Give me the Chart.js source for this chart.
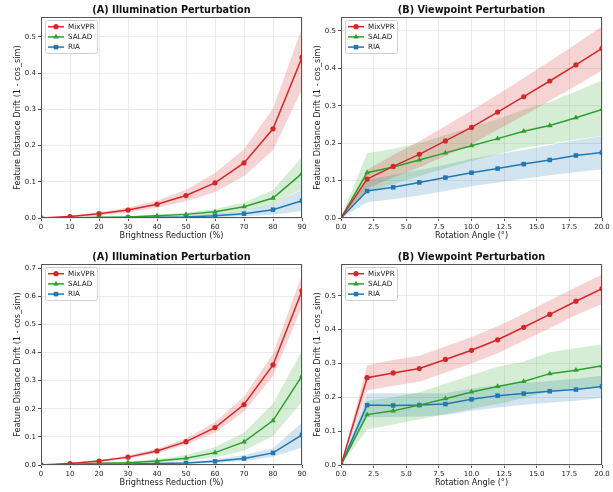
<!DOCTYPE html>
<html>
<head>
<meta charset="utf-8">
<script src="https://cdn.jsdelivr.net/npm/chart.js@4.4.0/dist/chart.umd.min.js"></script>
<style>
  html,body{margin:0;padding:0;background:#fff;}
  #wrap{position:relative;width:613px;height:492px;overflow:hidden;}
  #wrap canvas{position:absolute;}
</style>
</head>
<body>
<div id="wrap">
  <canvas id="c1" width="313" height="245" style="left:0;top:0"></canvas>
  <canvas id="c2" width="313" height="245" style="left:300px;top:0"></canvas>
  <canvas id="c3" width="313" height="245" style="left:0;top:247px"></canvas>
  <canvas id="c4" width="313" height="245" style="left:300px;top:247px"></canvas>
</div>
<script>
// x values
const brightness = [0,10,20,30,40,50,60,70,80,90];
const angles = [0,2,4,6,8,10,12,14,16,18,20];

// (A) top row
const a1Mix   = [0,0.004,0.012,0.022,0.038,0.062,0.097,0.152,0.246,0.443];
const a1MixHi = [0,0.006,0.016,0.029,0.048,0.078,0.124,0.190,0.302,0.525];
const a1MixLo = [0,0.002,0.007,0.015,0.028,0.046,0.072,0.115,0.187,0.355];
const a1Sal   = [0,0.001,0.002,0.003,0.006,0.010,0.017,0.031,0.055,0.123];
const a1SalHi = [0,0.0015,0.003,0.005,0.009,0.015,0.025,0.043,0.077,0.168];
const a1SalLo = [0,0.0005,0.001,0.002,0.003,0.005,0.009,0.020,0.037,0.080];
const a1Ria   = [0,0.0005,0.001,0.0015,0.002,0.003,0.006,0.012,0.023,0.048];
const a1RiaHi = [0,0.001,0.002,0.003,0.004,0.006,0.011,0.021,0.038,0.078];
const a1RiaLo = [0,0.0002,0.0004,0.0006,0.001,0.0015,0.002,0.005,0.009,0.019];

// (B) top row
const b1Mix   = [0,0.104,0.138,0.170,0.206,0.242,0.283,0.324,0.366,0.409,0.453];
const b1MixHi = [0,0.129,0.168,0.205,0.246,0.287,0.330,0.374,0.419,0.465,0.512];
const b1MixLo = [0,0.079,0.108,0.135,0.166,0.197,0.236,0.274,0.313,0.353,0.394];
const b1Sal   = [0,0.121,0.136,0.155,0.174,0.193,0.212,0.232,0.247,0.268,0.290];
const b1SalHi = [0,0.173,0.185,0.200,0.222,0.243,0.264,0.290,0.310,0.338,0.368];
const b1SalLo = [0,0.070,0.090,0.112,0.133,0.152,0.170,0.188,0.198,0.210,0.220];
const b1Ria   = [0,0.072,0.082,0.095,0.108,0.121,0.132,0.144,0.155,0.167,0.175];
const b1RiaHi = [0,0.102,0.115,0.128,0.142,0.158,0.170,0.182,0.195,0.208,0.219];
const b1RiaLo = [0,0.042,0.050,0.060,0.072,0.085,0.095,0.105,0.114,0.122,0.130];

// (A) bottom row
const a2Mix   = [0,0.005,0.014,0.028,0.050,0.083,0.133,0.215,0.356,0.620];
const a2MixHi = [0,0.007,0.018,0.034,0.058,0.094,0.153,0.243,0.397,0.676];
const a2MixLo = [0,0.003,0.010,0.022,0.042,0.072,0.115,0.190,0.317,0.563];
const a2Sal   = [0,0.002,0.006,0.008,0.014,0.024,0.044,0.082,0.158,0.317];
const a2SalHi = [0,0.003,0.008,0.012,0.021,0.036,0.063,0.115,0.219,0.406];
const a2SalLo = [0,0.001,0.003,0.005,0.008,0.013,0.027,0.051,0.103,0.225];
const a2Ria   = [0,0.001,0.002,0.004,0.005,0.007,0.013,0.023,0.043,0.107];
const a2RiaHi = [0,0.0015,0.003,0.006,0.008,0.011,0.020,0.036,0.060,0.151];
const a2RiaLo = [0,0.0005,0.001,0.002,0.003,0.004,0.007,0.014,0.029,0.062];

// (B) bottom row
const b2Mix   = [0,0.258,0.272,0.285,0.312,0.339,0.370,0.407,0.445,0.484,0.521];
const b2MixHi = [0,0.295,0.310,0.323,0.350,0.378,0.410,0.447,0.487,0.525,0.563];
const b2MixLo = [0,0.220,0.234,0.246,0.273,0.300,0.330,0.367,0.404,0.443,0.476];
const b2Sal   = [0,0.149,0.160,0.177,0.196,0.216,0.232,0.247,0.270,0.280,0.293];
const b2SalHi = [0,0.190,0.200,0.215,0.240,0.265,0.290,0.306,0.333,0.345,0.357];
const b2SalLo = [0,0.105,0.120,0.135,0.150,0.166,0.180,0.198,0.218,0.226,0.234];
const b2Ria   = [0,0.177,0.176,0.177,0.180,0.194,0.205,0.211,0.218,0.223,0.232];
const b2RiaHi = [0,0.212,0.212,0.212,0.212,0.225,0.236,0.242,0.248,0.255,0.264];
const b2RiaLo = [0,0.141,0.142,0.143,0.148,0.160,0.170,0.178,0.184,0.190,0.198];

const FONT = "'DejaVu Sans', sans-serif";
const SERIES = [
  {name:'MixVPR', color:'#d62728', fill:'rgba(214,39,40,0.2)',  style:'circle',   r:2.6},
  {name:'SALAD',  color:'#2ca02c', fill:'rgba(44,160,44,0.2)',  style:'triangle', r:3.2},
  {name:'RIA',    color:'#1f77b4', fill:'rgba(31,119,180,0.2)', style:'rect',     r:3.2}
];

const pts = (xs, ys)=>xs.map((x,i)=>({x, y:ys[i]}));

// title, frame and in-plot legend
const decor = {
  id:'decor',
  afterDraw(chart, args, opt){
    const {ctx, chartArea:a} = chart;
    ctx.save();
    ctx.strokeStyle = '#555'; ctx.lineWidth = 1;
    ctx.strokeRect(a.left+0.5, a.top+0.5, a.right-a.left-1, a.bottom-a.top-1);
    ctx.fillStyle = '#111';
    ctx.font = 'bold 9.7px ' + FONT;
    ctx.textAlign = 'center'; ctx.textBaseline = 'middle';
    ctx.fillText(opt.title, (a.left+a.right)/2, 10);
    // legend
    const bx = a.left+4, by = a.top+3;
    ctx.fillStyle = 'rgba(255,255,255,0.85)';
    ctx.strokeStyle = '#d0d0d0';
    ctx.beginPath(); ctx.roundRect(bx+0.5, by+0.5, 52, 33, 2); ctx.fill(); ctx.stroke();
    ctx.font = '7.2px ' + FONT; ctx.textAlign = 'left';
    SERIES.forEach((s,i)=>{
      const y = by + 6.7 + i*10.2;
      ctx.strokeStyle = s.color; ctx.lineWidth = 1.5;
      ctx.beginPath(); ctx.moveTo(bx+3, y); ctx.lineTo(bx+19, y); ctx.stroke();
      ctx.fillStyle = s.color;
      Chart.helpers.drawPoint(ctx, {pointStyle:s.style, radius:s.r, borderWidth:0}, bx+11, y);
      ctx.fillStyle = '#222';
      ctx.fillText(s.name, bx+23, y+0.5);
    });
    ctx.restore();
  }
};

function makeChart(id, title, xs, xlabel, xmax, xstep, ymax, lines, bands){
  const datasets = [];
  lines.forEach((ys,i)=>{
    const s = SERIES[i];
    datasets.push({label:s.name, data:pts(xs,ys), borderColor:s.color, backgroundColor:s.color,
      borderWidth:1.5, pointStyle:s.style, pointRadius:s.r, pointBorderWidth:0,
      fill:false, order:0});
  });
  bands.forEach((b,i)=>{
    const s = SERIES[i];
    datasets.push({label:s.name+' hi', data:pts(xs,b[0]), borderWidth:0, pointRadius:0,
      backgroundColor:s.fill, fill:'+1', order:1});
    datasets.push({label:s.name+' lo', data:pts(xs,b[1]), borderWidth:0, pointRadius:0,
      fill:false, order:1});
  });
  const tickFont = {family:FONT, size:7};
  const labFont = {family:FONT, size:8.2};
  return new Chart(document.getElementById(id), {
    type:'line',
    data:{datasets},
    options:{
      responsive:false, animation:false, events:[],
      layout:{padding:{left:0, right:11, top:17, bottom:0}},
      plugins:{legend:{display:false}, tooltip:{enabled:false}, decor:{title}},
      elements:{line:{tension:0}},
      scales:{
        x:{type:'linear', min:0, max:xmax,
          grid:{color:'#e6e6e6', lineWidth:0.8, tickColor:'#555', tickLength:3, tickWidth:1},
          border:{display:false},
          ticks:{stepSize:xstep, maxRotation:0, autoSkip:false, padding:2, color:'#222', font:tickFont,
            callback:v=> xstep<1 || xstep%1 ? v.toFixed(1) : String(v)},
          title:{display:true, text:xlabel, color:'#222', font:labFont, padding:{top:0, bottom:4}},
          afterFit:s=>{ s.height = 27; }
        },
        y:{min:0, max:ymax,
          grid:{color:'#e6e6e6', lineWidth:0.8, tickColor:'#555', tickLength:3, tickWidth:1},
          border:{display:false},
          ticks:{stepSize:0.1, includeBounds:false, padding:2, color:'#222', font:tickFont,
            callback:v=>v.toFixed(1)},
          title:{display:true, text:'Feature Distance Drift (1 - cos_sim)', color:'#222', font:labFont,
            padding:{top:13, bottom:0}},
          afterFit:s=>{ s.width = 41; }
        }
      }
    },
    plugins:[decor]
  });
}

makeChart('c1', '(A) Illumination Perturbation', brightness, 'Brightness Reduction (%)', 90, 10, 0.5545,
  [a1Mix, a1Sal, a1Ria], [[a1MixHi,a1MixLo],[a1SalHi,a1SalLo],[a1RiaHi,a1RiaLo]]);
makeChart('c2', '(B) Viewpoint Perturbation', angles, 'Rotation Angle (°)', 20, 2.5, 0.537,
  [b1Mix, b1Sal, b1Ria], [[b1MixHi,b1MixLo],[b1SalHi,b1SalLo],[b1RiaHi,b1RiaLo]]);
makeChart('c3', '(A) Illumination Perturbation', brightness, 'Brightness Reduction (%)', 90, 10, 0.715,
  [a2Mix, a2Sal, a2Ria], [[a2MixHi,a2MixLo],[a2SalHi,a2SalLo],[a2RiaHi,a2RiaLo]]);
makeChart('c4', '(B) Viewpoint Perturbation', angles, 'Rotation Angle (°)', 20, 2.5, 0.594,
  [b2Mix, b2Sal, b2Ria], [[b2MixHi,b2MixLo],[b2SalHi,b2SalLo],[b2RiaHi,b2RiaLo]]);
</script>
</body>
</html>
